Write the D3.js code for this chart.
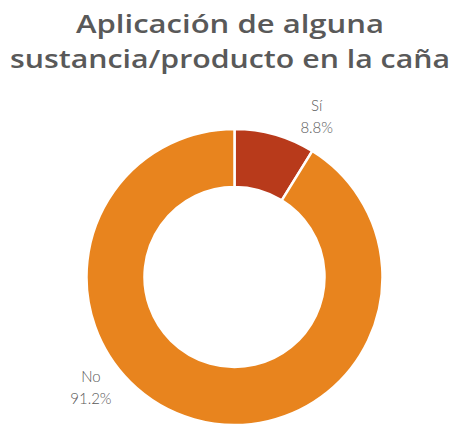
<!DOCTYPE html>
<html>
<head>
<meta charset="utf-8">
<script src="https://cdn.jsdelivr.net/npm/d3@7"></script>
<style>
  html, body { margin: 0; padding: 0; background: #ffffff; }
  svg { display: block; }
</style>
</head>
<body>
<svg id="chart" width="460" height="424"></svg>
<script>
// Survey answers: application of some substance/product on the cane
const categories = ["Sí", "No"];
const values = [8.8, 91.2];
const valueLabels = ["8.8%", "91.2%"];
const titleLines = ["Aplicación de alguna", "sustancia/producto en la caña"];
const sliceColors = ["#B83A1B", "#E8841E"];

const width = 460, height = 424;
const cx = 234.5, cy = 277;
const outerR = 148, innerR = 90;

const svg = d3.select("#chart");

// Title, two centred lines stretched to the heading's width
const titleWidths = [308, 440];
const titleBaselines = [33, 68];
svg.append("g")
  .selectAll("text")
  .data(titleLines)
  .join("text")
  .attr("x", width / 2)
  .attr("y", (d, i) => titleBaselines[i])
  .attr("text-anchor", "middle")
  .attr("textLength", (d, i) => titleWidths[i])
  .attr("lengthAdjust", "spacingAndGlyphs")
  .style("font-family", "'Open Sans', 'DejaVu Sans', sans-serif")
  .style("font-weight", 600)
  .style("font-size", "25px")
  .style("fill", "#595959")
  .text(d => d);

// Donut
const pie = d3.pie().sort(null).value(d => d.value);
const arcs = pie(categories.map((c, i) => ({ cat: c, value: values[i], label: valueLabels[i] })));
const arc = d3.arc().innerRadius(innerR).outerRadius(outerR);

const g = svg.append("g").attr("transform", `translate(${cx},${cy})`);
g.selectAll("path")
  .data(arcs)
  .join("path")
  .attr("d", arc)
  .attr("fill", (d, i) => sliceColors[i])
  .attr("stroke", "#ffffff")
  .attr("stroke-width", 2.5)
  .attr("stroke-linejoin", "round");

// Category + percentage labels outside the ring
const labelR = 181;
const labelAngleDeg = [27, 232.5];
const labels = g.selectAll("g.lbl")
  .data(arcs)
  .join("g")
  .attr("class", "lbl")
  .attr("transform", (d, i) => {
    const p = d3.pointRadial(labelAngleDeg[i] * Math.PI / 180, labelR);
    return `translate(${p[0]},${p[1]})`;
  });

const labelStyle = sel => sel
  .attr("text-anchor", "middle")
  .style("font-family", "Lato, 'Open Sans', sans-serif")
  .style("font-weight", 300)
  .style("font-size", "15px")
  .style("fill", "#595959");

labels.append("text")
  .attr("y", -5)
  .call(labelStyle)
  .text(d => d.data.cat);

labels.append("text")
  .attr("y", 17)
  .call(labelStyle)
  .text(d => d.data.label);
</script>
</body>
</html>
